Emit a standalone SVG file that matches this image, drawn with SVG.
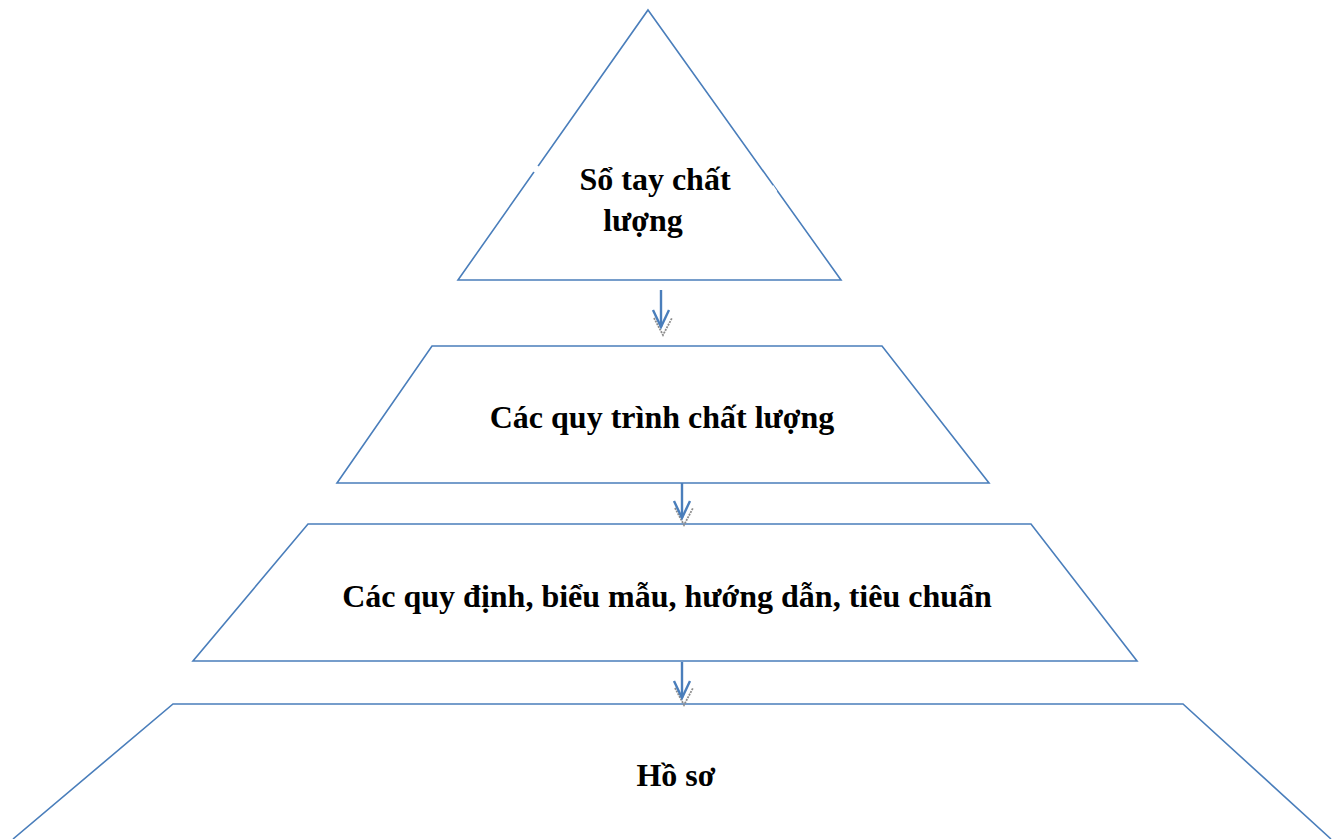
<svg xmlns="http://www.w3.org/2000/svg" width="1341" height="839" viewBox="0 0 1341 839">
<style>
.shape{fill:none;stroke:#4a7ebb;stroke-width:1.6}
.lbl{font-family:"Liberation Serif","Times New Roman",serif;font-weight:bold;font-size:32px;fill:#000;text-anchor:middle}
.conn{stroke:#4a7ebb;stroke-width:2.4;fill:none}
.shadow{stroke:#8c8c8c;stroke-width:1.8;fill:none;stroke-dasharray:2 1}
</style>
<rect width="1341" height="839" fill="#fff"/>
<g id="node-so-tay">
<polygon class="shape" points="648,10 841,280 458,280"/>
<line x1="551" y1="143" x2="549" y2="146" stroke="#fff" stroke-width="3"/>
<line x1="538" y1="166" x2="534" y2="172" stroke="#fff" stroke-width="3"/>
<line x1="772" y1="186" x2="776" y2="192" stroke="#fff" stroke-width="3"/>
<text class="lbl" x="655" y="190">Sổ tay chất</text>
<text class="lbl" x="643" y="231">lượng</text>
</g>
<g id="node-quy-trinh">
<polygon class="shape" points="432,346 882,346 989,483 337,483"/>
<text class="lbl" x="662" y="428">Các quy trình chất lượng</text>
</g>
<g id="node-quy-dinh">
<polygon class="shape" points="308,524 1031,524 1137,661 193,661"/>
<text class="lbl" x="667" y="607">Các quy định, biểu mẫu, hướng dẫn, tiêu chuẩn</text>
</g>
<g id="node-ho-so">
<polyline class="shape" points="13,839 173,704 1183,704 1331,839"/>
<text class="lbl" x="676" y="786">Hồ sơ</text>
</g>
<g id="connectors">
<polyline class="shadow" points="654,318 663,335 672,318"/>
<line class="conn" x1="661" y1="290" x2="661" y2="327"/>
<polyline class="conn" points="653,310 661,327 669,310"/>
<polyline class="shadow" points="675,508 684,525 693,508"/>
<line class="conn" x1="682" y1="483" x2="682" y2="518"/>
<polyline class="conn" points="674,501 682,518 690,501"/>
<polyline class="shadow" points="675,688 684,705 693,688"/>
<line class="conn" x1="682" y1="662" x2="682" y2="698"/>
<polyline class="conn" points="674,681 682,698 690,681"/>
</g>
</svg>
